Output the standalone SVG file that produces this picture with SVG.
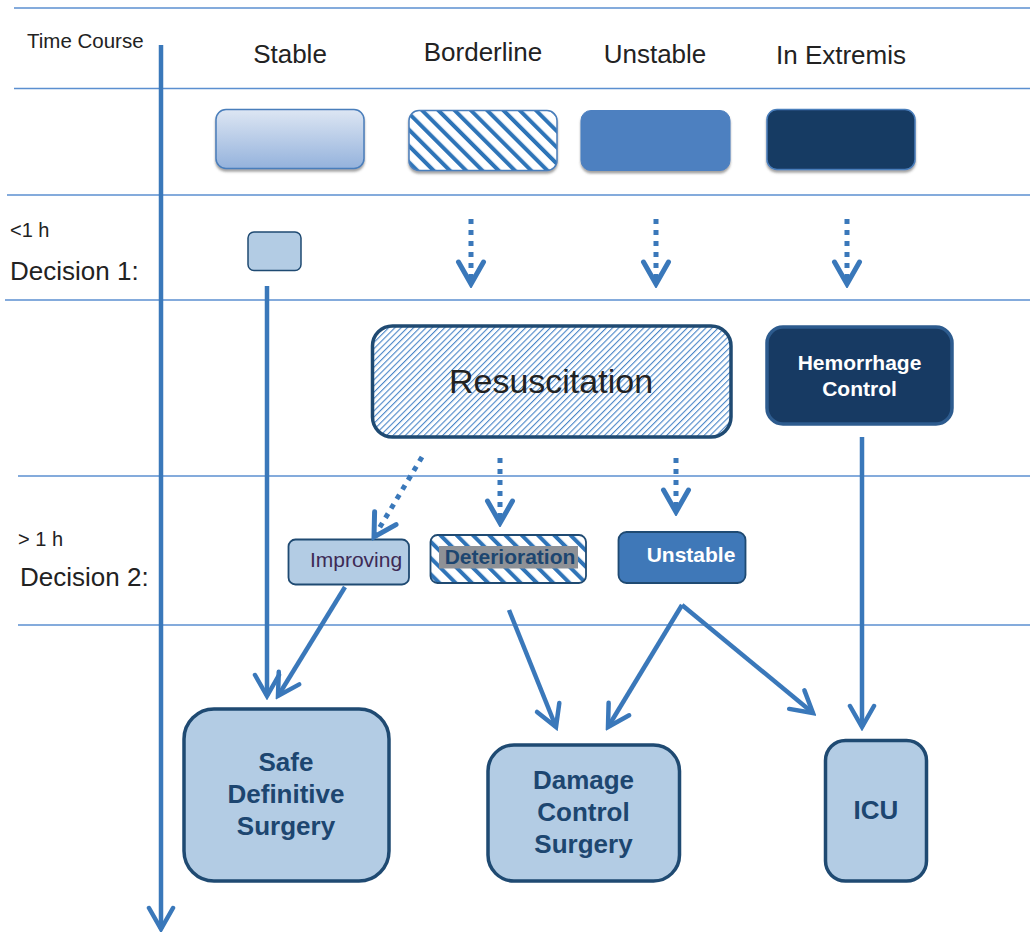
<svg xmlns="http://www.w3.org/2000/svg" width="1030" height="932" viewBox="0 0 1030 932">
  <style>
    .grid { stroke: #5b8fd0; stroke-width: 1.6; fill: none; }
    .lbl { font-family: "Liberation Sans", Arial, sans-serif; fill: #222; }
    .flow { stroke: #3a78ba; stroke-width: 4.5; fill: none; }
    .dot { stroke: #3a78ba; stroke-width: 5; fill: none; stroke-dasharray: 5 6; }
    .node { fill: #b3cce4; stroke: #1f4a72; }
    .btxt { font-family: "Liberation Sans", Arial, sans-serif; font-weight: bold; fill: #1d4670; text-anchor: middle; }
    .wtxt { font-family: "Liberation Sans", Arial, sans-serif; font-weight: bold; fill: #ffffff; text-anchor: middle; }
  </style>
  <defs>
    <linearGradient id="gStable" x1="0" y1="0" x2="0" y2="1">
      <stop offset="0" stop-color="#dde6f3"/>
      <stop offset="1" stop-color="#94b2dc"/>
    </linearGradient>
    <pattern id="thick" patternUnits="userSpaceOnUse" width="11.5" height="11.5" patternTransform="rotate(-45)">
      <rect width="11.5" height="11.5" fill="#ffffff"/>
      <rect width="4" height="11.5" fill="#2f74b8"/>
    </pattern>
    <pattern id="thin" patternUnits="userSpaceOnUse" width="4.4" height="4.4" patternTransform="rotate(45)">
      <rect width="4.4" height="4.4" fill="#ffffff"/>
      <rect width="1.1" height="4.4" fill="#4a86c8"/>
    </pattern>
    <filter id="shadow" x="-10%" y="-20%" width="120%" height="150%">
      <feDropShadow dx="0" dy="2.5" stdDeviation="1.3" flood-color="#555555" flood-opacity="0.55"/>
    </filter>
    <marker id="head" markerUnits="userSpaceOnUse" viewBox="-26 -16 30 32" markerWidth="30" markerHeight="32" refX="0" refY="0" orient="auto">
      <path d="M-21,-12 L0,0 L-21,12" fill="none" stroke="#3a78ba" stroke-width="4.5" stroke-linecap="round"/>
    </marker>
    <marker id="dhead" markerUnits="userSpaceOnUse" viewBox="-28 -18 32 36" markerWidth="32" markerHeight="36" refX="0" refY="0" orient="auto">
      <path d="M-22,-12.5 L0,0 L-22,12.5" fill="none" stroke="#3a78ba" stroke-width="5" stroke-linecap="round"/>
    </marker>
  </defs>

  <!-- row separators -->
  <g id="grid">
    <line class="grid" x1="14" y1="8" x2="1030" y2="8"/>
    <line class="grid" x1="14" y1="88.5" x2="1030" y2="88.5"/>
    <line class="grid" x1="7" y1="195" x2="1030" y2="195"/>
    <line class="grid" x1="5" y1="300" x2="1030" y2="300"/>
    <line class="grid" x1="18" y1="476" x2="1030" y2="476"/>
    <line class="grid" x1="18" y1="625" x2="1030" y2="625"/>
  </g>

  <!-- row and column labels -->
  <g id="labels">
    <text class="lbl" x="27" y="48" font-size="20.5">Time Course</text>
    <text class="lbl" x="290" y="63" font-size="26" text-anchor="middle">Stable</text>
    <text class="lbl" x="483" y="61" font-size="26" text-anchor="middle">Borderline</text>
    <text class="lbl" x="655" y="63" font-size="26" text-anchor="middle">Unstable</text>
    <text class="lbl" x="841" y="64" font-size="26" text-anchor="middle">In Extremis</text>
    <text class="lbl" x="10" y="237" font-size="20">&lt;1 h</text>
    <text class="lbl" x="10" y="280" font-size="26">Decision 1:</text>
    <text class="lbl" x="18" y="546" font-size="20">&gt; 1 h</text>
    <text class="lbl" x="20" y="586" font-size="26">Decision 2:</text>
  </g>

  <!-- legend swatches -->
  <g id="legend-stable">
    <rect x="216" y="109.5" width="148" height="59" rx="10" fill="url(#gStable)" stroke="#4a7ebb" stroke-width="1.5" filter="url(#shadow)"/>
  </g>
  <g id="legend-borderline">
    <rect x="409" y="110.5" width="148" height="60" rx="10" fill="url(#thick)" stroke="#4a7ebb" stroke-width="1.5" filter="url(#shadow)"/>
  </g>
  <g id="legend-unstable">
    <rect x="581" y="110.5" width="149" height="60" rx="10" fill="#4d80c0" stroke="#4d80c0" stroke-width="1" filter="url(#shadow)"/>
  </g>
  <g id="legend-extremis">
    <rect x="767" y="109.5" width="148" height="60" rx="10" fill="#173a63" stroke="#4a7ebb" stroke-width="1.5" filter="url(#shadow)"/>
  </g>

  <!-- decision 1 -->
  <g id="stable-d1">
    <rect x="248" y="232" width="53" height="38.5" rx="6" class="node" stroke-width="1.5"/>
  </g>
  <g id="resuscitation">
    <rect x="372.5" y="326" width="358.5" height="111" rx="20" fill="url(#thin)" stroke="#1f4a72" stroke-width="3.5"/>
    <text class="lbl" x="551" y="393" font-size="34" text-anchor="middle">Resuscitation</text>
  </g>
  <g id="hemorrhage-control">
    <rect x="767" y="327" width="185" height="97" rx="16" fill="#173a63" stroke="#2d5b8e" stroke-width="3.5"/>
    <text class="wtxt" x="859.5" y="370" font-size="21">Hemorrhage</text>
    <text class="wtxt" x="859.5" y="396" font-size="21">Control</text>
  </g>

  <!-- decision 2 -->
  <g id="improving">
    <rect x="288.5" y="539.5" width="120.5" height="45" rx="7" class="node" stroke-width="1.8"/>
    <text x="356" y="567" font-size="21" font-family="Liberation Sans, Arial, sans-serif" fill="#3d2a55" text-anchor="middle">Improving</text>
  </g>
  <g id="deterioration">
    <rect x="430.5" y="535" width="155.5" height="48" rx="7" fill="url(#thick)" stroke="#1f4a72" stroke-width="1.8"/>
    <rect x="439" y="546" width="139" height="22.5" fill="#8e9196"/>
    <text class="btxt" x="510" y="564" font-size="21">Deterioration</text>
  </g>
  <g id="unstable-d2">
    <rect x="618.5" y="532" width="127" height="51" rx="8" fill="#3f78b8" stroke="#1f4a72" stroke-width="1.8"/>
    <text class="wtxt" x="691" y="562" font-size="21">Unstable</text>
  </g>

  <!-- outcomes -->
  <g id="safe-definitive-surgery">
    <rect x="184" y="709" width="205" height="172" rx="30" class="node" stroke-width="3.5"/>
    <text class="btxt" x="286" y="771" font-size="26">Safe</text>
    <text class="btxt" x="286" y="803" font-size="26">Definitive</text>
    <text class="btxt" x="286" y="835" font-size="26">Surgery</text>
  </g>
  <g id="damage-control-surgery">
    <rect x="488" y="745" width="191.5" height="136" rx="26" class="node" stroke-width="3.5"/>
    <text class="btxt" x="583.5" y="789" font-size="26">Damage</text>
    <text class="btxt" x="583.5" y="821" font-size="26">Control</text>
    <text class="btxt" x="583.5" y="853" font-size="26">Surgery</text>
  </g>
  <g id="icu">
    <rect x="825.5" y="740.5" width="101" height="140.5" rx="20" class="node" stroke-width="3.5"/>
    <text class="btxt" x="876" y="819" font-size="26">ICU</text>
  </g>

  <!-- connectors -->
  <g id="connectors">
    <!-- time axis -->
    <line class="flow" x1="161" y1="45" x2="161" y2="929" marker-end="url(#head)"/>
    <!-- decision 1 dotted arrows -->
    <line class="dot" x1="471" y1="219" x2="471" y2="284" marker-end="url(#dhead)"/>
    <line class="dot" x1="656" y1="219" x2="656" y2="284" marker-end="url(#dhead)"/>
    <line class="dot" x1="847" y1="219" x2="847" y2="284" marker-end="url(#dhead)"/>
    <!-- resuscitation outcomes -->
    <line class="dot" x1="422" y1="457" x2="374" y2="537" marker-end="url(#dhead)"/>
    <line class="dot" x1="500" y1="458" x2="500" y2="523" marker-end="url(#dhead)"/>
    <line class="dot" x1="676" y1="458" x2="676" y2="512" marker-end="url(#dhead)"/>
    <!-- solid paths to outcomes -->
    <line class="flow" x1="267" y1="286" x2="267" y2="696" marker-end="url(#head)"/>
    <line class="flow" x1="345" y1="587" x2="278" y2="696" marker-end="url(#head)"/>
    <line class="flow" x1="509" y1="610" x2="556" y2="727" marker-end="url(#head)"/>
    <line class="flow" x1="682" y1="605" x2="608" y2="727" marker-end="url(#head)"/>
    <line class="flow" x1="682" y1="605" x2="813" y2="713" marker-end="url(#head)"/>
    <line class="flow" x1="862" y1="437" x2="862" y2="727" marker-end="url(#head)"/>
  </g>
</svg>
